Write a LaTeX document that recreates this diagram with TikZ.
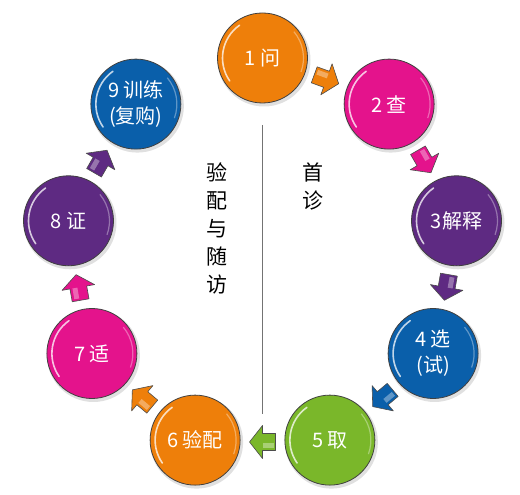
\documentclass[tikz,border=0pt]{standalone}
\usepackage{fontspec}
\setmainfont{Noto Sans CJK SC}
\begin{document}
\begin{tikzpicture}[x=1pt,y=1pt]
\definecolor{corange}{HTML}{EE7F0A}
\definecolor{cpink}{HTML}{E4138C}
\definecolor{cpurple}{HTML}{5E2A82}
\definecolor{cblue}{HTML}{0A5FAA}
\definecolor{cgreen}{HTML}{7AB72A}
\tikzset{
  stepnode/.style={circle, minimum size=90pt, inner sep=0pt, draw=black!75,
    line width=0.8pt, text=white, font=\fontsize{20}{26}\selectfont,
    align=center, fill=#1},
  blockarr/.style={draw=black!70, line width=0.6pt, fill=#1, line join=round},
  shine/.style={white, opacity=0.75, line width=1.6pt, line cap=round},
  sidetext/.style={font=\fontsize{21}{28}\selectfont, align=center, text=black},
  divider/.style={draw=black!55, line width=0.7pt}
}
\useasboundingbox (0,0) rectangle (520,495);
\coordinate (O) at (262.5,240);
% shadows
\foreach \i in {1,...,9}{
  \pgfmathsetmacro\a{90-40*(\i-1)}
  \fill[black, opacity=0.12] (O) ++(\a:197) ++(1.5,-2) circle (46.5pt);
}
\foreach \i/\lab/\col in {1/{1 问}/corange, 2/{2 查}/cpink, 3/{3解释}/cpurple,
    4/{4 选\\(试)}/cblue, 5/{5 取}/cgreen, 6/{6 验配}/corange,
    7/{7 适}/cpink, 8/{8 证}/cpurple, 9/{9 训练\\(复购)}/cblue}{
  \pgfmathsetmacro\a{90-40*(\i-1)}
  \path (O) ++(\a:197) node[stepnode=\col] (n\i) {\lab};
  \draw[shine] (n\i.center) ++(125:40) arc (125:215:40);
  \draw[white, opacity=0.35, line width=1.2pt] (n\i.center) ++(-20:41) arc (-20:40:41);
}
% block arrows
\foreach \i/\col in {1/corange,2/cpink,3/cpurple,4/cblue,5/cgreen,6/corange,7/cpink,8/cpurple}{
  \pgfmathsetmacro\a{70-40*(\i-1)}
  \begin{scope}[shift={(O)}, shift={(\a:187)}, rotate=\a-90]
    \coordinate (a\i) at (0,0);
    \draw[blockarr=\col] (-13,-8.5) -- (0,-8.5) -- (0,-16.5) -- (13,0) -- (0,16.5) -- (0,8.5) -- (-13,8.5) -- cycle;
    \fill[white, opacity=0.35] (-11,1) -- (0,1) -- (0,6) -- (-11,6) -- cycle;
  \end{scope}
}
% divider and side texts
\coordinate (dtop) at (262,370);
\coordinate (dbot) at (262,81);
\draw[divider] (dtop) -- (dbot);
\node[sidetext] (right) at (313,309) {首\\诊};
\node[sidetext] (left) at (217,266.5) {验\\配\\与\\随\\访};
\end{tikzpicture}
\end{document}
